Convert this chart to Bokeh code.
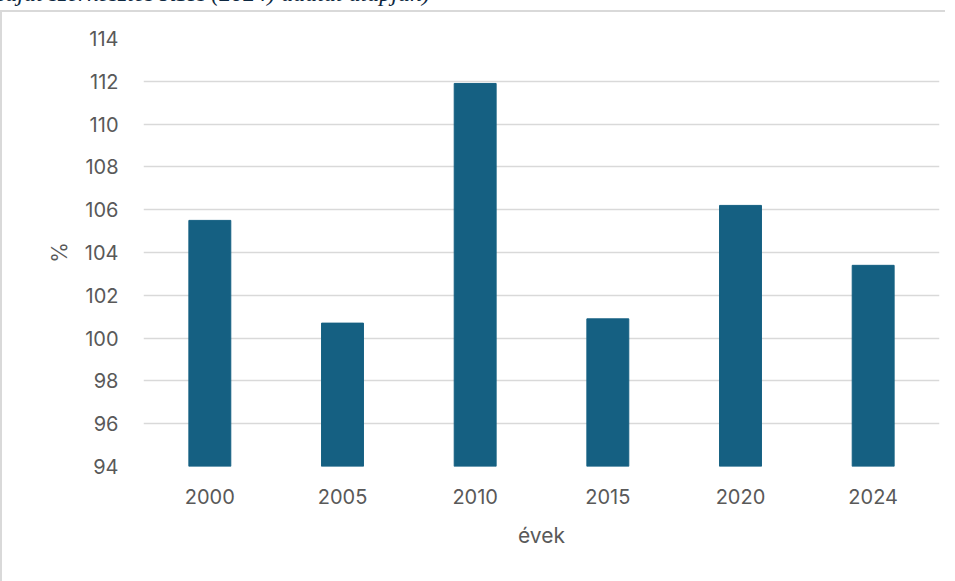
from bokeh.plotting import figure
from bokeh.models import Div, FactorRange, Range1d, FixedTicker
from bokeh.layouts import column
from bokeh.embed import file_html
from bokeh.resources import INLINE

years = ["2000", "2005", "2010", "2015", "2020", "2024"]
values = [105.5, 100.7, 111.9, 100.9, 106.2, 103.4]
y_ticks = [94, 96, 98, 100, 102, 104, 106, 108, 110, 112, 114]
caption = "saját szerkesztés KSH (2024) adatai alapján)"
x_title = "évek"
y_title = "%"

FONT = "Inter"
TXT = "#595959"

cap = Div(
    text=('<div style="position:absolute; left:-9px; top:-24px; white-space:nowrap; '
          'font-family:\'Liberation Serif\'; font-style:italic; font-size:24px; '
          'line-height:1; color:#0E2841;">' + caption + '</div>'),
    width=947, height=0, styles={"overflow": "visible"},
)

p = figure(
    x_range=FactorRange(*years), y_range=Range1d(94, 114),
    width=945, height=571, output_backend="svg", toolbar_location=None,
    styles={"border-left": "2px solid #d9d9d9", "border-top": "2px solid #d9d9d9"},
)
p.min_border_left = 141
p.min_border_top = 26
p.min_border_right = 8
p.min_border_bottom = 117
p.outline_line_color = None
p.background_fill_color = "white"
p.border_fill_color = "white"

p.vbar(x=years, top=values, bottom=94, width=0.316,
       fill_color="#156082", line_color="#156082")

p.xgrid.grid_line_color = None
p.ygrid.grid_line_color = "#d9d9d9"
p.ygrid.grid_line_width = 1.5
p.yaxis.ticker = FixedTicker(ticks=y_ticks)

for ax in (p.xaxis[0], p.yaxis[0]):
    ax.axis_line_color = None
    ax.major_tick_line_color = None
    ax.minor_tick_line_color = None
    ax.major_label_text_font = FONT
    ax.major_label_text_font_size = "20px"
    ax.major_label_text_color = TXT
    ax.axis_label_text_font = FONT
    ax.axis_label_text_font_size = "21px"
    ax.axis_label_text_font_style = "normal"
    ax.axis_label_text_color = TXT

p.xaxis.axis_label = x_title
p.yaxis.axis_label = y_title
p.xaxis.major_label_standoff = 16
p.yaxis.major_label_standoff = 19
p.xaxis.axis_label_standoff = 16
p.yaxis.axis_label_standoff = 10

layout = column(cap, p, spacing=0)
open("out.html", "w").write(file_html(layout, INLINE))
